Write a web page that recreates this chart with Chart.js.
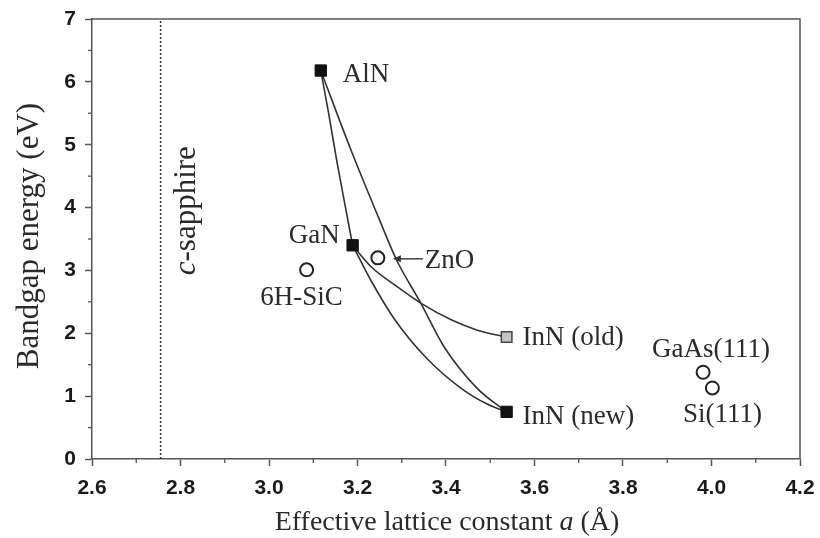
<!DOCTYPE html>
<html>
<head>
<meta charset="utf-8">
<script src="https://cdn.jsdelivr.net/npm/chart.js@4.4.1/dist/chart.umd.min.js"></script>
<style>
  html, body { margin: 0; padding: 0; background: #ffffff; }
  #wrap { width: 820px; height: 538px; }
</style>
</head>
<body>
<div id="wrap"><canvas id="c" width="820" height="538"></canvas></div>
<script>
// ---------------- data ----------------
// binary nitrides (filled squares)
const nitrideNames = ['AlN', 'GaN', 'InN (new)'];
const nitrideA     = [3.117, 3.189, 3.537];
const nitrideEg    = [6.18, 3.40, 0.75];

// old InN value (grey square)
const innOldNames = ['InN (old)'];
const innOldA     = [3.537];
const innOldEg    = [1.94];

// substrates (open circles)
const substrateNames = ['6H-SiC', 'ZnO', 'GaAs(111)', 'Si(111)'];
const substrateA     = [3.085, 3.246, 3.981, 4.002];
const substrateEg    = [3.01, 3.20, 1.38, 1.13];

// c-sapphire effective lattice constant (dotted vertical line)
const sapphireA = [2.755, 2.755];
const sapphireEg = [0, 7];

// alloy curves
const alganA  = [3.117, 3.135, 3.153, 3.171, 3.189];
const alganEg = [6.18, 5.49, 4.75, 4.07, 3.40];

const alinnA  = [3.117, 3.185, 3.250, 3.288, 3.343, 3.397, 3.471, 3.537];
const alinnEg = [6.18, 4.92, 3.80, 3.17, 2.48, 1.77, 1.12, 0.75];

const ganInnOldA  = [3.189, 3.232, 3.284, 3.343, 3.413, 3.471, 3.537];
const ganInnOldEg = [3.40, 3.05, 2.77, 2.48, 2.21, 2.05, 1.94];

const ganInnNewA  = [3.189, 3.232, 3.284, 3.358, 3.435, 3.494, 3.537];
const ganInnNewEg = [3.40, 2.82, 2.22, 1.59, 1.12, 0.87, 0.75];

// axis ranges / tick steps
const xMin = 2.6, xMax = 4.2, xStep = 0.1, xMajor = 0.2;
const yMin = 0, yMax = 7, yStep = 0.5, yMajor = 1;

// texts
const xTitleParts = ['Effective lattice constant ', 'a', ' (Å)'];
const yTitle = 'Bandgap energy (eV)';
const sapphireLabelParts = ['c', '-sapphire'];

// ---------------- build ----------------
const pts = (xs, ys) => xs.map((x, i) => ({ x: x, y: ys[i] }));
const INK = '#2a2a2a';
const SERIF = '"Liberation Serif", "Times New Roman", serif';
const SANS = '"Liberation Sans", Arial, sans-serif';

function isMajor(v, step) {
  const r = v / step;
  return Math.abs(r - Math.round(r)) < 1e-6;
}

const curveStyle = {
  showLine: true, pointRadius: 0, borderColor: '#333', borderWidth: 1.6,
  cubicInterpolationMode: 'monotone', fill: false
};

// label offsets (pixels from the marker) – layout only
const labelLayout = {
  'AlN':       { dx: 22,  dy: 11, align: 'left' },
  'GaN':       { dx: -13, dy: -2, align: 'right' },
  'InN (new)': { dx: 16,  dy: 12, align: 'left' },
  'InN (old)': { dx: 16,  dy: 8,  align: 'left' },
  '6H-SiC':    { dx: -5,  dy: 35, align: 'center' },
  'ZnO':       { dx: 47,  dy: 10, align: 'left' },
  'GaAs(111)': { dx: 8,   dy: -15, align: 'center' },
  'Si(111)':   { dx: 10,  dy: 34, align: 'center' }
};

function drawParts(ctx, parts, fonts, x, y, align) {
  let widths = parts.map((p, i) => { ctx.font = fonts[i]; return ctx.measureText(p).width; });
  let total = widths.reduce((a, b) => a + b, 0);
  let cx = align === 'center' ? x - total / 2 : (align === 'right' ? x - total : x);
  ctx.textAlign = 'left';
  parts.forEach((p, i) => { ctx.font = fonts[i]; ctx.fillText(p, cx, y); cx += widths[i]; });
}

const decor = {
  id: 'decor',
  afterDraw(chart) {
    const ctx = chart.ctx;
    const xs = chart.scales.x, ys = chart.scales.y;
    const a = chart.chartArea;
    ctx.save();
    // top & right frame
    ctx.strokeStyle = '#555';
    ctx.lineWidth = 1.5;
    ctx.beginPath();
    ctx.moveTo(a.left, a.top); ctx.lineTo(a.right, a.top); ctx.lineTo(a.right, a.bottom);
    ctx.stroke();
    // minor ticks (shorter)
    ctx.lineWidth = 1.3;
    xs.ticks.forEach(t => {
      if (!isMajor(t.value, xMajor)) {
        const px = xs.getPixelForValue(t.value);
        ctx.beginPath(); ctx.moveTo(px, a.bottom); ctx.lineTo(px, a.bottom + 4); ctx.stroke();
      }
    });
    ys.ticks.forEach(t => {
      if (!isMajor(t.value, yMajor)) {
        const py = ys.getPixelForValue(t.value);
        ctx.beginPath(); ctx.moveTo(a.left, py); ctx.lineTo(a.left - 4, py); ctx.stroke();
      }
    });

    ctx.fillStyle = INK;
    ctx.textBaseline = 'alphabetic';
    // point labels
    const labelFont = '27px ' + SERIF;
    const put = (names, A, E) => names.forEach((n, i) => {
      const L = labelLayout[n];
      const px = xs.getPixelForValue(A[i]), py = ys.getPixelForValue(E[i]);
      ctx.font = labelFont; ctx.textAlign = L.align;
      ctx.fillText(n, px + L.dx, py + L.dy);
      if (n === 'ZnO') {
        // arrow from label to curve
        ctx.strokeStyle = '#333'; ctx.lineWidth = 1.4;
        ctx.beginPath(); ctx.moveTo(px + 45, py + 1); ctx.lineTo(px + 21, py + 1); ctx.stroke();
        ctx.beginPath();
        ctx.moveTo(px + 15, py + 1); ctx.lineTo(px + 23, py - 2.5); ctx.lineTo(px + 23, py + 4.5);
        ctx.closePath(); ctx.fillStyle = '#333'; ctx.fill(); ctx.fillStyle = INK;
      }
    });
    put(nitrideNames, nitrideA, nitrideEg);
    put(innOldNames, innOldA, innOldEg);
    put(substrateNames, substrateA, substrateEg);

    // c-sapphire label (rotated)
    ctx.save();
    const sx = xs.getPixelForValue(sapphireA[0]);
    ctx.translate(sx + 34, ys.getPixelForValue(3.95));
    ctx.rotate(-Math.PI / 2);
    drawParts(ctx, sapphireLabelParts, ['italic 31px ' + SERIF, '31px ' + SERIF], 0, 0, 'center');
    ctx.restore();

    // axis titles
    drawParts(ctx, xTitleParts, ['28px ' + SERIF, 'italic 28px ' + SERIF, '28px ' + SERIF],
              (a.left + a.right) / 2 + 1, 530, 'center');
    ctx.save();
    ctx.translate(38, (a.top + a.bottom) / 2 - 3);
    ctx.rotate(-Math.PI / 2);
    ctx.font = '31px ' + SERIF; ctx.textAlign = 'center';
    ctx.fillText(yTitle, 0, 0);
    ctx.restore();
    ctx.restore();
  }
};

new Chart(document.getElementById('c'), {
  type: 'scatter',
  data: {
    datasets: [
      { label: 'nitrides', data: pts(nitrideA, nitrideEg), pointStyle: 'rect', pointRadius: 8,
        backgroundColor: '#111', borderColor: '#111', borderWidth: 1, order: 0 },
      { label: 'InN old', data: pts(innOldA, innOldEg), pointStyle: 'rect', pointRadius: 7.5,
        backgroundColor: '#c4c4c4', borderColor: '#444', borderWidth: 1.5, order: 0 },
      { label: 'substrates', data: pts(substrateA, substrateEg), pointStyle: 'circle', pointRadius: 6.5,
        backgroundColor: '#ffffff', borderColor: '#222', borderWidth: 2, order: 0 },
      Object.assign({ label: 'AlGaN', data: pts(alganA, alganEg), order: 2 }, curveStyle),
      Object.assign({ label: 'AlInN', data: pts(alinnA, alinnEg), order: 2 }, curveStyle),
      Object.assign({ label: 'GaInN old', data: pts(ganInnOldA, ganInnOldEg), order: 2 }, curveStyle),
      Object.assign({ label: 'GaInN new', data: pts(ganInnNewA, ganInnNewEg), order: 2 }, curveStyle),
      { label: 'c-sapphire', data: pts(sapphireA, sapphireEg), showLine: true, pointRadius: 0,
        borderColor: '#333', borderWidth: 1.5, borderDash: [2, 2], order: 3 }
    ]
  },
  options: {
    responsive: false,
    animation: false,
    devicePixelRatio: 1,
    layout: { padding: { left: 0, right: 20, top: 19, bottom: 0 } },
    plugins: { legend: { display: false }, tooltip: { enabled: false } },
    scales: {
      x: {
        type: 'linear', min: xMin, max: xMax,
        afterFit: s => { s.height = 79; s.paddingRight = 0; s.paddingLeft = 0; },
        border: { color: '#555', width: 1.5 },
        grid: { drawOnChartArea: false, drawTicks: true, tickLength: 7, tickWidth: 1.5,
                tickColor: c => isMajor(c.tick.value, xMajor) ? '#555' : 'rgba(0,0,0,0)' },
        ticks: {
          stepSize: xStep, autoSkip: false, maxRotation: 0, padding: 10,
          color: '#1a1a1a', font: { family: SANS, size: 21, weight: 'bold' },
          callback: v => isMajor(v, xMajor) ? (Math.round(v * 10) / 10).toFixed(1) : ''
        },
        title: { display: false }
      },
      y: {
        type: 'linear', min: yMin, max: yMax,
        afterFit: s => { s.width = 92; s.paddingTop = 0; s.paddingBottom = 0; },
        border: { color: '#555', width: 1.5 },
        grid: { drawOnChartArea: false, drawTicks: true, tickLength: 7, tickWidth: 1.5,
                tickColor: c => isMajor(c.tick.value, yMajor) ? '#555' : 'rgba(0,0,0,0)' },
        ticks: {
          stepSize: yStep, autoSkip: false, padding: 9,
          color: '#1a1a1a', font: { family: SANS, size: 21, weight: 'bold' },
          callback: v => isMajor(v, yMajor) ? String(Math.round(v)) : ''
        },
        title: { display: false }
      }
    }
  },
  plugins: [decor]
});
</script>
</body>
</html>
